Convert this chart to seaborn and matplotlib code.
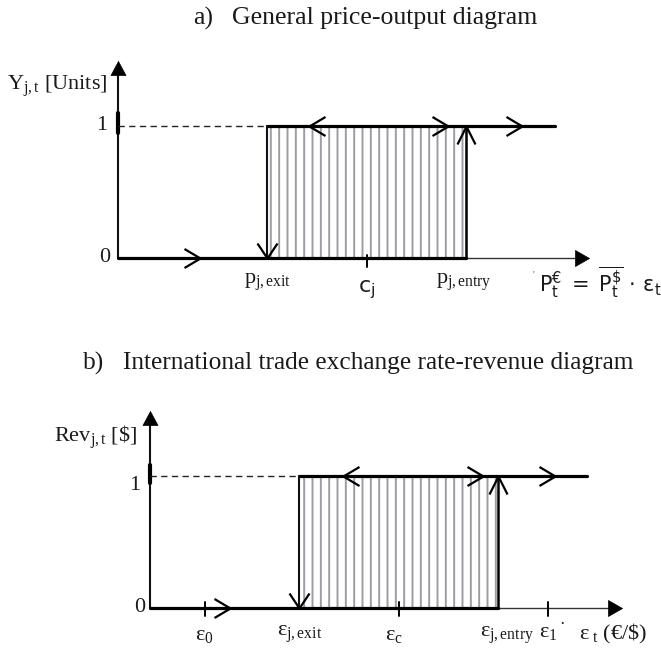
import matplotlib
matplotlib.use("Agg")
import matplotlib.pyplot as plt
import seaborn as sns

# Panel a: price thresholds of firm j (price units)
price_exit = 3.0
price_cost = 5.0
price_entry = 7.0
price_line_end = 8.78
price_axis_end = 9.47

# Panel b: exchange-rate thresholds (EUR per USD, schematic units)
eps_0 = 1.1
eps_exit = 3.0
eps_c = 5.0
eps_entry = 7.0
eps_1 = 8.0
eps_line_end = 8.78
eps_axis_end = 9.49

# output / revenue states
state_off = 0.0
state_on = 1.0
axis_top = 1.49

# direction arrows along the hysteresis loop
a_arrows_low = [1.65]
a_arrows_left = [3.84]
a_arrows_right = [6.63, 8.12]
b_arrows_low = [1.6]
b_arrows_left = [3.88]
b_arrows_right = [6.69, 8.14]

W, H = 661, 649
PX_X = 49.75   # pixels per x unit
PX_Y = 132.0   # pixels per y unit

sns.set_theme(style="white")
plt.rcParams["font.family"] = ["Liberation Serif", "DejaVu Serif"]
plt.rcParams["mathtext.fontset"] = "custom"
plt.rcParams["mathtext.rm"] = "Liberation Serif"
plt.rcParams["mathtext.it"] = "Liberation Serif:italic"
plt.rcParams["mathtext.bf"] = "Liberation Serif:bold"
plt.rcParams["hatch.linewidth"] = 1.4

fig = plt.figure(figsize=(W / 100, H / 100), dpi=100)


def make_axes(top_px, bottom_px, origin_x_px, origin_y_px):
    ax = fig.add_axes([0, 1 - bottom_px / H, 1, (bottom_px - top_px) / H])
    ax.set_xlim(-origin_x_px / PX_X, (W - origin_x_px) / PX_X)
    ax.set_ylim((origin_y_px - bottom_px) / PX_Y, (origin_y_px - top_px) / PX_Y)
    ax.set_axis_off()
    return ax


def seg(ax, xs, ys, **kw):
    sns.lineplot(x=xs, y=ys, ax=ax, estimator=None, sort=False, **kw)


def chevron(w, h, direction):
    # open arrowhead, tip at the origin; sizes in pixels
    if direction == "right":
        v = [(-w, h / 2), (0, 0), (-w, -h / 2)]
    elif direction == "left":
        v = [(w, h / 2), (0, 0), (w, -h / 2)]
    elif direction == "down":
        v = [(-w / 2, h), (0, 0), (w / 2, h)]
    else:
        v = [(-w / 2, -h), (0, 0), (w / 2, -h)]
    m = max(abs(c) for p in v for c in p)
    return v, 1.44 * m


def triangle(w, h, direction):
    if direction == "up":
        v = [(0, 0), (-w / 2, -h), (w / 2, -h), (0, 0)]
    else:
        v = [(0, 0), (-h, w / 2), (-h, -w / 2), (0, 0)]
    m = max(abs(c) for p in v for c in p)
    return v, 1.44 * m


def mark(ax, xs, ys, shape):
    verts, ms = shape
    ax.plot(xs, ys, linestyle="none", marker=verts, markersize=ms,
            markerfacecolor="none", markeredgecolor="black",
            markeredgewidth=1.6, zorder=6)


def filled(ax, x, y, shape):
    verts, ms = shape
    ax.plot([x], [y], linestyle="none", marker=verts, markersize=ms,
            markerfacecolor="black", markeredgecolor="black",
            markeredgewidth=0.5, zorder=6)


def loop(ax, x_exit, x_entry, x_end, x_axis_end, lows, lefts, rights, one_mark):
    # hatched band between exit and entry thresholds
    ax.fill_between([x_exit, x_entry], state_off, state_on, hatch="||",
                    facecolor="none", edgecolor="#9c9ca4", linewidth=0, zorder=1)
    # axes
    seg(ax, [0, 0], [state_off, axis_top - 0.08], color="#111111", linewidth=1.5)
    seg(ax, [0, 0], one_mark, color="black", linewidth=3.0)
    seg(ax, [x_entry, x_axis_end - 0.25], [state_off, state_off],
        color="#333333", linewidth=1.0)
    filled(ax, 0, axis_top, triangle(15, 14, "up"))
    filled(ax, x_axis_end, state_off, triangle(16, 14, "right"))
    # dashed guide at the "on" level
    ax.plot([0, x_exit], [state_on, state_on], color="#222222",
            linewidth=1.0, linestyle=(0, (4.5, 3.2)))
    # hysteresis path
    seg(ax, [0, x_entry], [state_off, state_off], color="black", linewidth=2.3)
    seg(ax, [x_exit, x_end], [state_on, state_on], color="black", linewidth=2.3)
    seg(ax, [x_exit, x_exit], [state_on, state_off], color="#111111", linewidth=1.5)
    seg(ax, [x_entry, x_entry], [state_off, state_on], color="black", linewidth=1.8)
    mark(ax, [x_exit], [state_off], chevron(20, 15, "down"))
    mark(ax, [x_entry], [state_on], chevron(18, 18, "up"))
    mark(ax, lows, [state_off] * len(lows), chevron(16, 19, "right"))
    mark(ax, lefts, [state_on] * len(lefts), chevron(16, 19, "left"))
    mark(ax, rights, [state_on] * len(rights), chevron(16, 19, "right"))


label_kw = dict(fontsize=16, color="#1a1a1a")

# ---------------- panel a ----------------
ax_a = make_axes(40, 300, 118, 258)
loop(ax_a, price_exit, price_entry, price_line_end, price_axis_end,
     a_arrows_low, a_arrows_left, a_arrows_right, [0.95, 1.1])
seg(ax_a, [price_cost, price_cost], [0.025, -0.07], color="black", linewidth=1.4)

ax_a.text(-0.22, 1.303, r"$\mathrm{Y_{j,t}}$ [Units]", ha="right", va="center", **label_kw)
ax_a.text(-0.22, state_on, "1", ha="right", va="center", **label_kw)
ax_a.text(-0.15, state_off, "0", ha="right", va="center", **label_kw)
ax_a.text(price_exit, -0.197, r"$\mathrm{p_{j,exit}}$", ha="center", va="baseline", **label_kw)
ax_a.text(price_cost, -0.26, r"$\mathrm{c_j}$", ha="center", va="baseline",
          math_fontfamily="dejavusans", **label_kw)
ax_a.text(price_entry - 0.04, -0.197, r"$\mathrm{p_{j,entry}}$", ha="center",
          va="baseline", **label_kw)
ax_a.text((539 - 118) / PX_X, -0.26,
          r"$\mathrm{P_t^{€}\;=\;\overline{P_t^{\$}}\,\cdot\,ε_t}$",
          ha="left", va="baseline", math_fontfamily="dejavusans",
          fontsize=15, color="#1a1a1a")
ax_a.text((533 - 118) / PX_X, -0.13, "'", ha="center", va="center",
          fontsize=7, color="#555555")

# ---------------- panel b ----------------
ax_b = make_axes(390, 649, 150, 608)
loop(ax_b, eps_exit, eps_entry, eps_line_end, eps_axis_end,
     b_arrows_low, b_arrows_left, b_arrows_right, [0.95, 1.08])
for xt in [eps_0, eps_c, eps_1]:
    seg(ax_b, [xt, xt], [0.045, -0.06], color="black", linewidth=1.4)

ax_b.text(-0.26, 1.295, r"$\mathrm{Rev_{j,t}}$ [\$]", ha="right", va="center", **label_kw)
ax_b.text(-0.2, 0.93, "1", ha="right", va="center", **label_kw)
ax_b.text(-0.1, state_off, "0", ha="right", va="center", **label_kw)
ax_b.text(eps_0, -0.24, r"$\mathrm{ε_0}$", ha="center", va="baseline", **label_kw)
ax_b.text(eps_exit, -0.21, r"$\mathrm{ε_{j,exit}}$", ha="center", va="baseline", **label_kw)
ax_b.text(eps_c - 0.1, -0.24, r"$\mathrm{ε_c}$", ha="center", va="baseline", **label_kw)
ax_b.text(eps_entry + 0.18, -0.22, r"$\mathrm{ε_{j,entry}}$", ha="center", va="baseline", **label_kw)
ax_b.text(eps_1, -0.22, r"$\mathrm{ε_1}$", ha="center", va="baseline", **label_kw)
ax_b.text((562 - 150) / PX_X, -0.13, "·", ha="center", va="center", fontsize=12, color="#1a1a1a")
ax_b.text((579 - 150) / PX_X, -0.24, r"$\mathrm{ε_{\ t}}$ (€/\$)", ha="left", va="baseline", **label_kw)

# ---------------- titles ----------------
title_kw = dict(color="#1a1a1a", va="center", ha="left")
fig.text(193 / W, 1 - 18 / H, "a)", fontsize=18.5, **title_kw)
fig.text(232 / W, 1 - 18 / H, "General price-output diagram", fontsize=18.5, **title_kw)
fig.text(83 / W, 1 - 363 / H, "b)", fontsize=18.3, **title_kw)
fig.text(123 / W, 1 - 363 / H, "International trade exchange rate-revenue diagram",
         fontsize=18.3, **title_kw)

fig.savefig("out.png", dpi=100, facecolor="white")
